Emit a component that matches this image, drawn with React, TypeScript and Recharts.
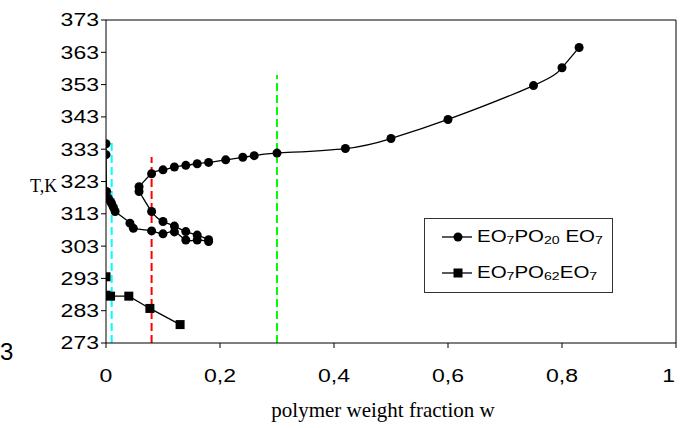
import { ComposedChart, Line, XAxis, YAxis, ReferenceLine, Legend, Label } from "recharts";

// EO7PO20EO7 – upper branch (from the right end, round the C-shape)
const upperW = [0.83, 0.8, 0.75, 0.6, 0.5, 0.42, 0.3, 0.26, 0.24, 0.21, 0.18, 0.16, 0.14, 0.12, 0.1, 0.08, 0.058, 0.058, 0.08, 0.1, 0.12, 0.14, 0.16, 0.18];
const upperT = [364.5, 358.2, 352.7, 342.2, 336.3, 333.2, 331.8, 331, 330.5, 329.7, 328.9, 328.5, 328, 327.5, 326.6, 325.4, 321.4, 319.9, 313.7, 310.6, 309.2, 307.5, 306.4, 305];

// EO7PO20EO7 – lower branch near the axis
const lowerW = [0, 0, 0.001, 0.004, 0.008, 0.01, 0.013, 0.016, 0.042, 0.048, 0.08, 0.1, 0.12, 0.14, 0.16, 0.18];
const lowerT = [334.7, 331.3, 319.9, 317.8, 316.8, 316.1, 315, 313.7, 310.1, 308.5, 307.7, 306.8, 307.4, 304.9, 304.9, 304.4];

// EO7PO62EO7
const sqW = [0, 0, 0.008, 0.04, 0.077, 0.13];
const sqT = [293.5, 287.8, 287.5, 287.5, 283.7, 278.7];

// dashed verticals: w, top T, colour
const vLineW = [0.01, 0.08, 0.3];
const vLineTop = [335.3, 330.6, 356];
const vLineColor = ["#00ffff", "#ff0000", "#00ff00"];

const xTicks = [0, 0.2, 0.4, 0.6, 0.8, 1];
const yTicks = [273, 283, 293, 303, 313, 323, 333, 343, 353, 363, 373];

const zip = (w: number[], t: number[]) => w.map((v, i) => ({ w: v, T: t[i] }));
const upper = zip(upperW, upperT);
const lower = zip(lowerW, lowerT);
const squares = zip(sqW, sqT);

const SANS = "'Liberation Sans', Arial, sans-serif";
const SERIF = "'Liberation Serif', 'Times New Roman', serif";
const SX = 1.28;

const XTick = ({ x, y, payload }: any) => {
  const last = payload.value === 1;
  const tx = last ? x - 1 : x;
  return (
    <text
      x={tx}
      y={y + 32}
      textAnchor={last ? "end" : "middle"}
      fontFamily={SANS}
      fontSize={18}
      fill="#000"
      transform={`translate(${tx} 0) scale(${SX} 1) translate(${-tx} 0)`}
    >
      {String(payload.value).replace(".", ",")}
    </text>
  );
};

const YTick = ({ x, y, payload }: any) => (
  <text
    x={x}
    y={y + 6.5}
    textAnchor="end"
    fontFamily={SANS}
    fontSize={18}
    fill="#000"
    transform={`translate(${x} 0) scale(${SX} 1) translate(${-x} 0)`}
  >
    {payload.value}
  </text>
);

const SquareDot = (props: any) => {
  const { cx, cy, index } = props;
  return <rect key={`sq-${index}`} x={cx - 4.5} y={cy - 4.5} width={9} height={9} fill="#000" />;
};

const subStyle = { fontSize: 11, verticalAlign: "-2px" } as const;

const LegendBox = () => (
  <div
    style={{
      width: 189,
      height: 75,
      border: "1px solid #333",
      boxSizing: "border-box",
      background: "#fff",
      fontFamily: SANS,
      fontSize: 16,
      color: "#000",
    }}
  >
    {[0, 1].map((i) => (
      <div key={i} style={{ position: "relative", height: 36, display: "flex", alignItems: "center" }}>
        <svg width={50} height={20} style={{ marginLeft: 16 }}>
          <line x1={1} y1={10} x2={31} y2={10} stroke="#000" strokeWidth={1.3} />
          {i === 0 ? <circle cx={17} cy={10} r={4.5} fill="#000" /> : <rect x={12.5} y={5.5} width={9} height={9} fill="#000" />}
        </svg>
        <span style={{ position: "absolute", left: 52, transform: `scaleX(${SX})`, transformOrigin: "left center", whiteSpace: "nowrap" }}>
          EO<span style={subStyle}>7</span>PO<span style={subStyle}>{i === 0 ? "20" : "62"}</span>
          {i === 0 ? " " : ""}EO<span style={subStyle}>7</span>
        </span>
      </div>
    ))}
  </div>
);

export default function App() {
  return (
    <div style={{ position: "absolute", left: 0, top: 0, width: 680, height: 428, background: "#fff" }}>
      <ComposedChart width={680} height={428} margin={{ top: 20, right: 4, bottom: 0, left: 20 }}>
        <XAxis
          type="number"
          dataKey="w"
          domain={[0, 1]}
          ticks={xTicks}
          tick={<XTick />}
          tickSize={5}
          height={85}
          stroke="#000"
          allowDataOverflow
        >
          <Label
            value="polymer weight fraction w"
            position="insideBottom"
            offset={11}
            dx={-8}
            style={{ fontFamily: SERIF, fontSize: 21, fill: "#000" }}
          />
        </XAxis>
        <YAxis
          type="number"
          dataKey="T"
          domain={[273, 373]}
          ticks={yTicks}
          tick={<YTick />}
          tickSize={5}
          width={86}
          stroke="#000"
          allowDataOverflow
        >
          <Label
            value="T,K"
            position="insideLeft"
            offset={10}
            dy={4}
            style={{ fontFamily: SERIF, fontSize: 18, fill: "#000" }}
          />
        </YAxis>
        <ReferenceLine y={373} stroke="#000" />
        <ReferenceLine x={1} stroke="#000" />
        {vLineW.map((w, i) => (
          <ReferenceLine
            key={i}
            segment={[{ x: w, y: 273 }, { x: w, y: vLineTop[i] }]}
            stroke={vLineColor[i]}
            strokeWidth={2}
            strokeDasharray="8 4"
          />
        ))}
        <Line
          data={upper}
          dataKey="T"
          type="natural"
          stroke="#000"
          strokeWidth={1.3}
          dot={{ r: 4.5, fill: "#000", stroke: "#000", strokeWidth: 0 }}
          isAnimationActive={false}
          legendType="none"
        />
        <Line
          data={lower}
          dataKey="T"
          type="natural"
          stroke="#000"
          strokeWidth={1.3}
          dot={{ r: 4.5, fill: "#000", stroke: "#000", strokeWidth: 0 }}
          isAnimationActive={false}
          legendType="none"
        />
        <Line
          data={squares}
          dataKey="T"
          type="linear"
          stroke="#000"
          strokeWidth={1.3}
          dot={<SquareDot />}
          isAnimationActive={false}
          legendType="none"
        />
        <Legend
          content={<LegendBox />}
          layout="horizontal"
          verticalAlign="middle"
          align="center"
          wrapperStyle={{ position: "absolute", left: 424, top: 218, width: 189, height: 75 }}
        />
      </ComposedChart>
      <span style={{ position: "absolute", left: 0, top: 338, fontFamily: SANS, fontSize: 24, color: "#000" }}>3</span>
    </div>
  );
}
